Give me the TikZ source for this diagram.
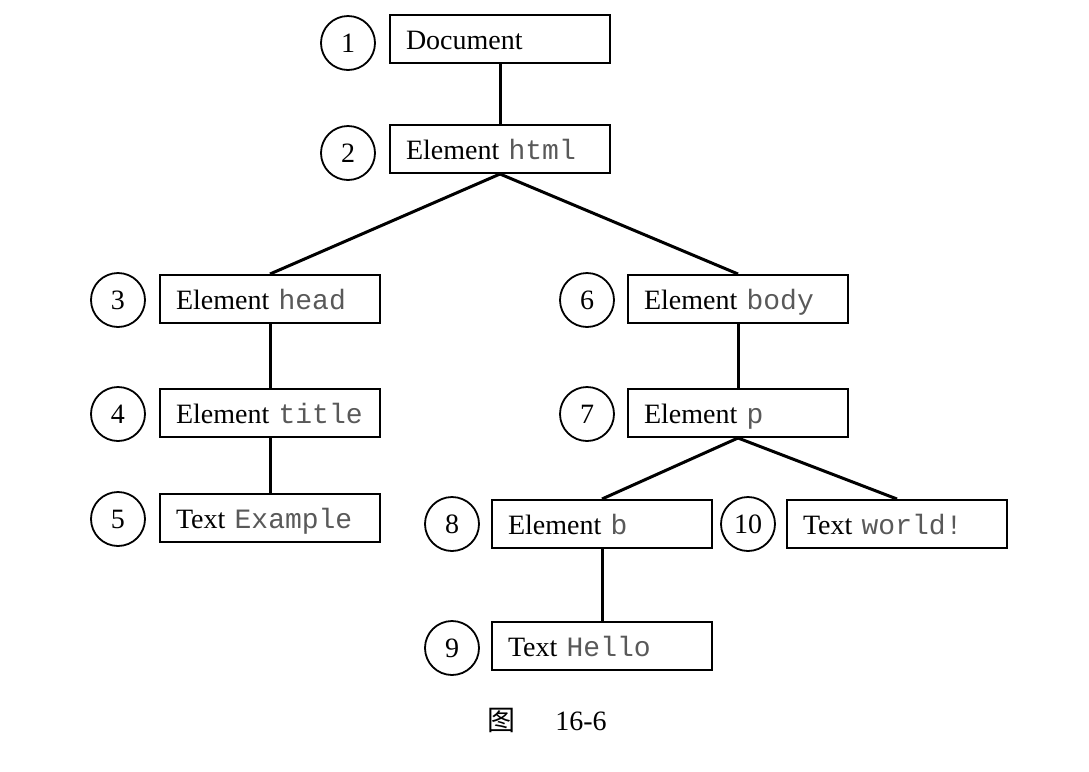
\documentclass[tikz,border=0pt]{standalone}
\usepackage{fontspec}
\setmainfont{Liberation Serif}
\setmonofont{Liberation Mono}
\newfontfamily\cjk{Noto Sans CJK SC}
\newcommand{\code}[1]{{\ttfamily\color{black!65}#1}}
\begin{document}
\begin{tikzpicture}[
    x=0.5pt, y=-0.5pt,
    every node/.style={font=\fontsize{14pt}{16pt}\selectfont},
    tree box/.style={draw, line width=1pt, minimum width=110pt, minimum height=24pt,
        text width=94pt, text height=12pt, text depth=2pt, inner xsep=8pt, align=left},
    num circle/.style={draw, line width=0.9pt, circle, minimum size=27pt, inner sep=0pt},
    tree line/.style={draw, line width=1.5pt},
    ]
\useasboundingbox (0,0) rectangle (1089,772);
% boxes
\node[tree box] (doc) at (500,39) {Document};
\node[tree box] (html) at (500,149) {Element \code{html}};
\node[tree box] (head) at (270,299) {Element \code{head}};
\node[tree box] (title) at (270,413) {Element \code{title}};
\node[tree box] (example) at (270,518) {Text \code{Example}};
\node[tree box] (body) at (738,299) {Element \code{body}};
\node[tree box] (p) at (738,413) {Element \code{p}};
\node[tree box] (b) at (602,524) {Element \code{b}};
\node[tree box] (world) at (897,524) {Text \code{world!}};
\node[tree box] (hello) at (602,646) {Text \code{Hello}};
% numbers
\node[num circle] (n1) at (348,43) {1};
\node[num circle] (n2) at (348,153) {2};
\node[num circle] (n3) at (118,300) {3};
\node[num circle] (n4) at (118,414) {4};
\node[num circle] (n5) at (118,519) {5};
\node[num circle] (n6) at (587,300) {6};
\node[num circle] (n7) at (587,414) {7};
\node[num circle] (n8) at (452,524) {8};
\node[num circle] (n9) at (452,648) {9};
\node[num circle] (n10) at (748,524) {10};
% edges
\draw[tree line] (doc.south) -- (html.north);
\draw[tree line] (html.south) -- (head.north);
\draw[tree line] (html.south) -- (body.north);
\draw[tree line] (head.south) -- (title.north);
\draw[tree line] (title.south) -- (example.north);
\draw[tree line] (body.south) -- (p.north);
\draw[tree line] (p.south) -- (b.north);
\draw[tree line] (p.south) -- (world.north);
\draw[tree line] (b.south) -- (hello.north);
% caption
\node (caption) at (547,720) {{\cjk 图}\hspace{20pt}16-6};
\end{tikzpicture}
\end{document}
